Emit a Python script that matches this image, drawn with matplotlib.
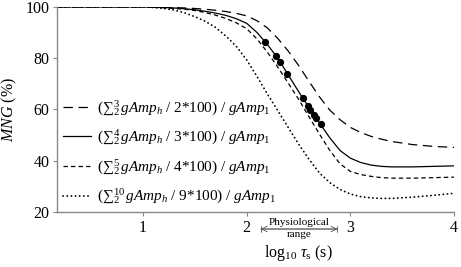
import numpy as np
import matplotlib
matplotlib.use('Agg')
from matplotlib import pyplot as plt

plt.rcParams['font.family'] = ['Liberation Serif', 'DejaVu Serif']
plt.rcParams['mathtext.fontset'] = 'custom'
plt.rcParams['mathtext.rm'] = 'Liberation Serif'
plt.rcParams['mathtext.it'] = 'Liberation Serif:italic'
plt.rcParams['mathtext.bf'] = 'Liberation Serif:bold'

# log10 tau_s grid
x = [0.17, 0.6, 1.0, 1.1, 1.2, 1.3, 1.4, 1.5, 1.6, 1.7, 1.8, 1.9, 2.0, 2.1, 2.2,
     2.3, 2.4, 2.5, 2.6, 2.7, 2.8, 2.9, 3.0, 3.1, 3.2, 3.3, 3.4, 3.6, 3.8, 4.0]

# MNG (%) for each harmonic sum
mng_h3 = [100, 100, 100, 99.95, 99.85, 99.75, 99.6, 99.4, 99.1, 98.7, 98.2, 97.5, 96.5, 94.6, 91.8,
          87.7, 82.8, 77.2, 71.0, 65.0, 59.8, 56.0, 53.0, 51.0, 49.5, 48.4, 47.5, 46.3, 45.6, 45.2]
mng_h4 = [100, 100, 100, 99.9, 99.8, 99.6, 99.3, 98.9, 98.3, 97.6, 96.7, 95.4, 93.6, 90.0, 85.3,
          80.0, 73.5, 67.0, 60.8, 54.9, 49.0, 44.0, 41.0, 39.3, 38.3, 37.8, 37.6, 37.6, 37.8, 38.0]
mng_h5 = [100, 100, 100, 99.85, 99.7, 99.4, 99.1, 98.6, 97.8, 96.8, 95.5, 93.8, 91.5, 87.5, 82.3,
          76.5, 70.3, 64.0, 57.2, 50.5, 44.1, 38.8, 35.8, 34.6, 33.9, 33.4, 33.2, 33.2, 33.4, 33.6]
mng_h10 = [100, 100, 100, 99.8, 99.4, 98.8, 97.7, 96.2, 94.4, 92.0, 88.6, 84.6, 79.3, 72.8, 66.0,
           59.5, 53.0, 46.5, 40.6, 35.3, 31.5, 28.8, 27.0, 26.0, 25.5, 25.3, 25.3, 25.8, 26.5, 27.3]

# points on the 4-harmonic curve
dots_x = [2.173, 2.279, 2.320, 2.391, 2.541, 2.589, 2.615, 2.647, 2.670, 2.712]
dots_y = [86.2, 81.0, 78.6, 74.0, 64.5, 61.4, 59.9, 58.0, 56.7, 54.3]

labels = ['$(\u2211_2^3\\,gAmp_h\\ /\\ 2{*}100)\\ /\\ gAmp_1$',
          '$(\u2211_2^4\\,gAmp_h\\ /\\ 3{*}100)\\ /\\ gAmp_1$',
          '$(\u2211_2^5\\,gAmp_h\\ /\\ 4{*}100)\\ /\\ gAmp_1$',
          '$(\u2211_2^{10}\\,gAmp_h\\ /\\ 9{*}100)\\ /\\ gAmp_1$']

fig = plt.figure(figsize=(4.61, 2.67), dpi=100)
ax = fig.add_axes([0.1236, 0.206, 0.8614, 0.768])

ax.plot(x, mng_h3, color='black', lw=0.9, dashes=(7.5, 4.5), label=labels[0])
ax.plot(x, mng_h4, color='black', lw=0.9, label=labels[1])
ax.plot(x, mng_h5, color='black', lw=0.9, dashes=(3.5, 2.5), label=labels[2])
ax.plot(x, mng_h10, color='black', lw=1.3, linestyle=(0, (0.1, 2.2)),
        dash_capstyle='round', label=labels[3])
ax.plot(dots_x, dots_y, 'o', color='black', ms=4.2, zorder=5)

ax.set_xlim(0.17, 4)
ax.set_ylim(20, 100)
ax.set_xticks([1, 2, 3, 4])
ax.set_yticks([20, 40, 60, 80, 100])
ax.tick_params(labelsize=11.5, color='#888888', length=3, width=0.8, pad=2.5)
for s in ['top', 'right']:
    ax.spines[s].set_visible(False)
for s in ['left', 'bottom']:
    ax.spines[s].set_color('#888888')
    ax.spines[s].set_linewidth(1.0)

ax.set_ylabel('$MNG$ (%)', fontsize=11.5)
ax.yaxis.set_label_coords(-0.095, 0.5)
ax.set_xlabel('log$_{10}$ $\\tau_{\\rm s}$ (s)', fontsize=11.5)
ax.xaxis.set_label_coords(0.607, -0.15)

leg = ax.legend(loc='upper left', bbox_to_anchor=(-0.008, 0.6), frameon=False,
                fontsize=11, handlelength=1.85, handletextpad=0.35,
                labelspacing=0.67, borderaxespad=0.2)

# physiological range marker under the axis
ax.annotate('', xy=(2.135, -0.083), xytext=(2.875, -0.083), xycoords=('data', 'axes fraction'),
            arrowprops=dict(arrowstyle='<->', color='#555555', lw=0.6, shrinkA=0, shrinkB=0),
            annotation_clip=False)
ax.annotate('', xy=(2.135, -0.083), xytext=(2.875, -0.083), xycoords=('data', 'axes fraction'),
            arrowprops=dict(arrowstyle='|-|, widthA=0.25, widthB=0.25', color='#555555', lw=0.6,
                            shrinkA=0, shrinkB=0),
            annotation_clip=False)
ax.text(2.505, -0.075, 'Physiological', transform=ax.get_xaxis_transform(),
        ha='center', va='bottom', fontsize=8)
ax.text(2.505, -0.09, 'range', transform=ax.get_xaxis_transform(),
        ha='center', va='top', fontsize=8)

fig.savefig('out.png', dpi=100)
